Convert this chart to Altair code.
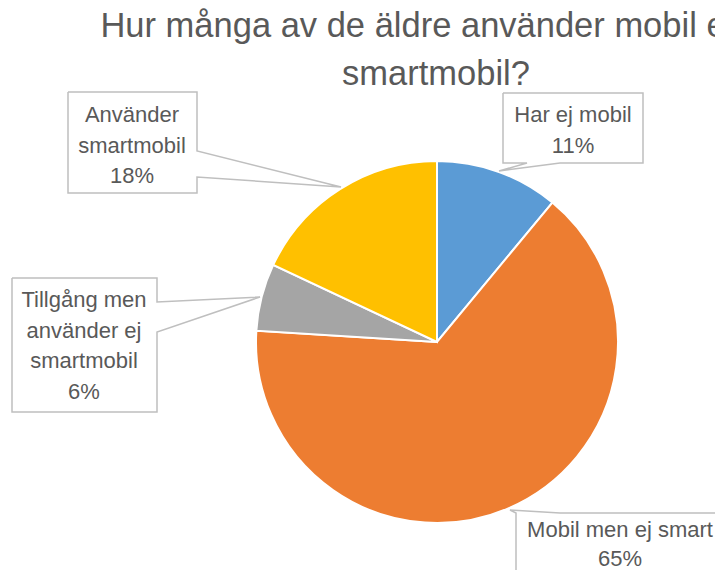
import altair as alt
import pandas as pd

# ---- data ----
categories = ["Har ej mobil", "Mobil men ej smart", "Tillgång men använder ej smartmobil", "Använder smartmobil"]
values = [11, 65, 6, 18]
colors = ["#5B9BD5", "#ED7D31", "#A5A5A5", "#FFC000"]
label_texts = [
    "Har ej mobil\n11%",
    "Mobil men ej smart\n65%",
    "Tillgång men\nanvänder ej\nsmartmobil\n6%",
    "Använder\nsmartmobil\n18%",
]
title_text = "Hur många av de äldre använder mobil eller\nsmartmobil?"

# ---- layout (pixel positions in page coordinates) ----
W, H = 707, 562
center = (437, 342)
radius = 181
# x centre and first-line baseline of each callout text
label_pos = [(573, 122), (620, 537), (84, 307), (132, 122)]
label_lh = [30.5, 29, 30.5, 30.5]
callouts = [
    [(503, 93), (643, 93), (643, 163), (560, 163), (499, 171), (527, 163), (503, 163), (503, 93)],
    [(516, 600), (516, 513), (510, 510), (560, 513), (740, 513)],
    [(12, 278), (157, 278), (157, 302), (260, 297), (157, 332), (157, 412), (12, 412), (12, 278)],
    [(68, 92), (197, 92), (197, 151), (341, 187), (197, 177), (197, 193), (68, 193), (68, 92)],
]

pie_df = pd.DataFrame({"cat": categories, "val": values, "idx": list(range(len(values)))})
lab_df = pd.DataFrame({"txt": label_texts, "x": [p[0] for p in label_pos], "y": [p[1] for p in label_pos],
                       "lh": label_lh})
rows = []
for i, poly in enumerate(callouts):
    for j, (px, py) in enumerate(poly):
        rows.append({"id": i, "o": j, "x": px, "y": py})
co_df = pd.DataFrame(rows)
title_df = pd.DataFrame({"txt": [title_text], "x": [436], "y": [37]})

xs = alt.Scale(domain=[8, 8 + W])
ys = alt.Scale(domain=[8, 8 + H], reverse=True)

pie = alt.Chart(pie_df).mark_arc(outerRadius=radius, stroke="white", strokeWidth=2).encode(
    theta=alt.Theta("val:Q", stack=True),
    order=alt.Order("idx:Q"),
    color=alt.Color("cat:N", scale=alt.Scale(domain=categories, range=colors), legend=None),
    x=alt.value(center[0] - 8),
    y=alt.value(center[1] - 8),
)

lines = alt.Chart(co_df).mark_line(color="#BFBFBF", strokeWidth=1.5).encode(
    x=alt.X("x:Q", scale=xs, axis=None),
    y=alt.Y("y:Q", scale=ys, axis=None),
    order="o:Q",
    detail="id:N",
)

label_layers = []
for i in range(len(label_texts)):
    label_layers.append(
        alt.Chart(lab_df.iloc[[i]]).mark_text(
            font="Liberation Sans", fontSize=22, color="#595959", lineBreak="\n", lineHeight=label_lh[i],
            baseline="alphabetic", align="center"
        ).encode(
            x=alt.X("x:Q", scale=xs, axis=None),
            y=alt.Y("y:Q", scale=ys, axis=None),
            text="txt:N",
        )
    )

title = alt.Chart(title_df).mark_text(
    font="Liberation Sans", fontSize=34.5, color="#595959", lineBreak="\n", lineHeight=48,
    baseline="alphabetic", align="center"
).encode(
    x=alt.X("x:Q", scale=xs, axis=None),
    y=alt.Y("y:Q", scale=ys, axis=None),
    text="txt:N",
)

chart = alt.layer(pie, lines, *label_layers, title).properties(
    width=W, height=H, autosize=alt.AutoSizeParams(type="none"), padding=0
).configure_view(stroke=None)

chart.save("out.html", embed_options={"renderer": "svg", "actions": False})
